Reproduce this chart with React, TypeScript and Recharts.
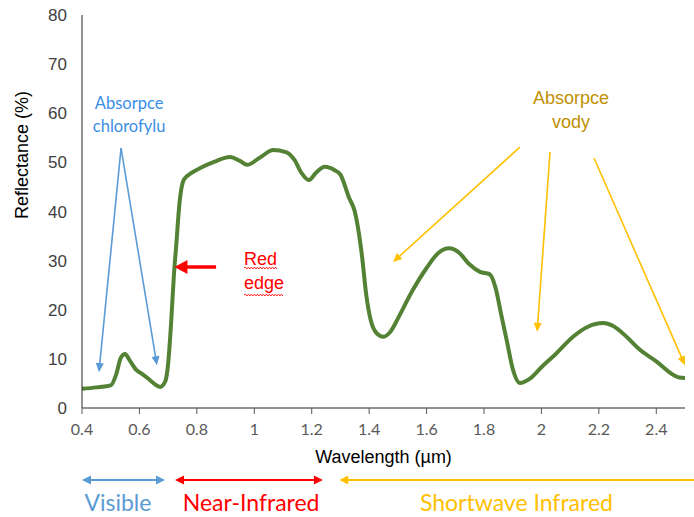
import React from 'react';
import { LineChart, Line, XAxis, YAxis, ReferenceLine, ReferenceDot } from 'recharts';

const wavelengths = [
  0.4, 0.45, 0.5, 0.52, 0.535, 0.55, 0.565, 0.59, 0.61, 0.63, 0.65, 0.672, 0.69, 0.7, 0.71, 0.72, 0.728, 0.74,
  0.755, 0.78, 0.81, 0.86, 0.915, 0.95, 0.975, 1.02, 1.066, 1.11, 1.14, 1.165, 1.19, 1.215, 1.245, 1.28, 1.3,
  1.33, 1.35, 1.375, 1.39, 1.405, 1.425, 1.45, 1.475, 1.5, 1.55, 1.6, 1.64, 1.68, 1.71, 1.75, 1.786, 1.82, 1.84,
  1.86, 1.88, 1.9, 1.925, 1.96, 2.0, 2.05, 2.11, 2.16, 2.215, 2.25, 2.3, 2.34, 2.4, 2.46, 2.48, 2.5,
];
const reflectance = [
  3.9, 4.2, 4.6, 7.0, 10.2, 11.0, 9.8, 7.7, 6.9, 6.0, 5.0, 4.3, 5.4, 9, 17, 27, 33, 42,
  46.5, 47.8, 48.8, 50.1, 51.1, 50.3, 49.5, 51, 52.5, 52.1, 50.5, 47.8, 46.4, 47.9, 49.1, 48.4, 47.5,
  42.8, 40, 31, 23, 18, 15.3, 14.5, 15.6, 18.2, 23.8, 28.5, 31.5, 32.5, 31.8, 29.2, 27.7, 27.2, 24.5,
  19, 13.5, 8, 5.1, 6, 8.3, 11, 14.5, 16.5, 17.3, 16.7, 14.3, 12, 9.5, 6.7, 6.2, 6.1,
];
const xTicks = [0.4, 0.6, 0.8, 1, 1.2, 1.4, 1.6, 1.8, 2, 2.2, 2.4];
const yTicks = [0, 10, 20, 30, 40, 50, 60, 70, 80];

const data = wavelengths.map((w, i) => ({ w, r: reflectance[i] }));

type Pt = { x: number; y: number };
type ArrowSpec = { from: Pt; to: Pt; color: string; width: number; head: number; headW: number; both?: boolean };

const annotationArrows: ArrowSpec[] = [
  { from: { x: 0.536, y: 52.9 }, to: { x: 0.459, y: 7.3 }, color: '#5B9BD5', width: 1.6, head: 9, headW: 8 },
  { from: { x: 0.536, y: 52.9 }, to: { x: 0.661, y: 8.7 }, color: '#5B9BD5', width: 1.6, head: 9, headW: 8 },
  { from: { x: 0.867, y: 28.7 }, to: { x: 0.722, y: 28.7 }, color: '#FF0000', width: 3.5, head: 13, headW: 14 },
  { from: { x: 1.925, y: 53.1 }, to: { x: 1.483, y: 29.7 }, color: '#FFC000', width: 1.6, head: 9, headW: 8 },
  { from: { x: 2.03, y: 52.1 }, to: { x: 1.985, y: 15.5 }, color: '#FFC000', width: 1.6, head: 9, headW: 8 },
  { from: { x: 2.183, y: 50.9 }, to: { x: 2.5, y: 8.7 }, color: '#FFC000', width: 1.6, head: 9, headW: 8 },
  { from: { x: 0.4, y: -14.66 }, to: { x: 0.689, y: -14.66 }, color: '#5B9BD5', width: 2, head: 9, headW: 9, both: true },
  { from: { x: 0.724, y: -14.66 }, to: { x: 1.239, y: -14.66 }, color: '#FF0000', width: 2, head: 9, headW: 9, both: true },
  { from: { x: 2.535, y: -14.66 }, to: { x: 1.296, y: -14.66 }, color: '#FFC000', width: 2, head: 9, headW: 9 },
];

type TextSpec = {
  at: Pt;
  lines: string[];
  color: string;
  size: number;
  family: string;
  anchor: string;
  lh: number;
  wavy?: number[];
};

const annotationTexts: TextSpec[] = [
  { at: { x: 0.564, y: 60.9 }, lines: ['Absorpce', 'chlorofylu'], color: '#3A8EE6', size: 16.5, family: 'Lato', anchor: 'middle', lh: 23 },
  { at: { x: 2.103, y: 61.9 }, lines: ['Absorpce', 'vody'], color: '#BF9000', size: 18, family: 'Liberation Sans, Arial', anchor: 'middle', lh: 24 },
  { at: { x: 0.964, y: 29.1 }, lines: ['Red', 'edge'], color: '#FF0000', size: 18, family: 'Liberation Sans, Arial', anchor: 'start', lh: 24, wavy: [34, 40] },
  { at: { x: 0.525, y: -20.97 }, lines: ['Visible'], color: '#5B9BD5', size: 23, family: 'Lato', anchor: 'middle', lh: 0 },
  { at: { x: 0.989, y: -20.97 }, lines: ['Near-Infrared'], color: '#FF0000', size: 23, family: 'Lato', anchor: 'middle', lh: 0 },
  { at: { x: 1.913, y: -20.97 }, lines: ['Shortwave Infrared'], color: '#FFC000', size: 23, family: 'Lato', anchor: 'middle', lh: 0 },
  { at: { x: 1.45, y: -11.2 }, lines: ['Wavelength (µm)'], color: '#000000', size: 18, family: 'Liberation Sans, Arial', anchor: 'middle', lh: 0 },
];

const headPoly = (tx: number, ty: number, ux: number, uy: number, L: number, W: number) => {
  const bx = tx - ux * L;
  const by = ty - uy * L;
  const nx = -uy;
  const ny = ux;
  return `${tx},${ty} ${bx + (nx * W) / 2},${by + (ny * W) / 2} ${bx - (nx * W) / 2},${by - (ny * W) / 2}`;
};

const makeArrowShape = (a: ArrowSpec) => (props: any) => {
  const x1 = Number(props.x1);
  const y1 = Number(props.y1);
  const x2 = Number(props.x2);
  const y2 = Number(props.y2);
  const dx = x2 - x1;
  const dy = y2 - y1;
  const len = Math.sqrt(dx * dx + dy * dy) || 1;
  const ux = dx / len;
  const uy = dy / len;
  const sx = a.both ? x1 + ux * (a.head - 1) : x1;
  const sy = a.both ? y1 + uy * (a.head - 1) : y1;
  const ex = x2 - ux * (a.head - 1);
  const ey = y2 - uy * (a.head - 1);
  return (
    <g>
      <line x1={sx} y1={sy} x2={ex} y2={ey} stroke={a.color} strokeWidth={a.width} />
      <polygon points={headPoly(x2, y2, ux, uy, a.head, a.headW)} fill={a.color} />
      {a.both ? <polygon points={headPoly(x1, y1, -ux, -uy, a.head, a.headW)} fill={a.color} /> : null}
    </g>
  );
};

const wavyPath = (x: number, y: number, w: number) => {
  let d = `M${x},${y}`;
  const step = 1.5;
  let up = true;
  for (let px = x + step; px <= x + w + 0.01; px += step) {
    d += ` L${px.toFixed(2)},${(y + (up ? -0.9 : 0.9)).toFixed(2)}`;
    up = !up;
  }
  return d;
};

const makeTextShape = (t: TextSpec) => (props: any) => {
  const cx = Number(props.cx);
  const cy = Number(props.cy);
  return (
    <g>
      <text x={cx} y={cy} fill={t.color} fontSize={t.size} fontFamily={t.family} textAnchor={t.anchor as any}>
        {t.lines.map((l, i) => (
          <tspan key={i} x={cx} dy={i === 0 ? 0 : t.lh}>
            {l}
          </tspan>
        ))}
      </text>
      {t.wavy
        ? t.wavy.map((w, i) => (
            <path
              key={`w${i}`}
              d={wavyPath(cx, cy + i * t.lh + (i === 0 ? 3 : 6), w)}
              fill="none"
              stroke={t.color}
              strokeWidth={0.9}
            />
          ))
        : null}
    </g>
  );
};

const yTitleShape = (props: any) => {
  const cx = Number(props.cx);
  const cy = Number(props.cy);
  return (
    <text
      x={cx}
      y={cy}
      transform={`rotate(-90, ${cx}, ${cy})`}
      textAnchor="middle"
      dominantBaseline="central"
      fontSize={18}
      fontFamily="Liberation Sans, Arial"
      fill="#000000"
    >
      Reflectance (%)
    </text>
  );
};

export default function App() {
  return (
    <div style={{ position: 'absolute', left: 0, top: 0, width: 694, height: 517, background: '#fff' }}>
      <LineChart width={694} height={517} data={data} margin={{ top: 15, right: 9, bottom: 79, left: 0 }}>
        <XAxis
          dataKey="w"
          type="number"
          domain={[0.4, 2.5]}
          ticks={xTicks}
          allowDataOverflow
          height={30}
          stroke="#262626"
          tickSize={6}
          tickMargin={10}
          tick={{ fill: '#595959', fontSize: 16, fontFamily: 'Lato' }}
          tickLine={{ stroke: '#595959' }}
        />
        <YAxis
          type="number"
          domain={[0, 80]}
          ticks={yTicks}
          width={82}
          stroke="#262626"
          tickLine={false}
          tickSize={0}
          tickMargin={15}
          tick={{ fill: '#404040', fontSize: 17, fontFamily: 'Liberation Sans, Arial' }}
        />
        <Line
          type="monotone"
          dataKey="r"
          stroke="#548235"
          strokeWidth={4}
          dot={false}
          activeDot={false}
          isAnimationActive={false}
        />
        {annotationArrows.map((a, i) => (
          <ReferenceLine
            key={`a${i}`}
            segment={[a.from, a.to]}
            ifOverflow="visible"
            stroke={a.color}
            shape={makeArrowShape(a)}
          />
        ))}
        {annotationTexts.map((t, i) => (
          <ReferenceDot key={`t${i}`} x={t.at.x} y={t.at.y} r={1} ifOverflow="visible" shape={makeTextShape(t)} />
        ))}
        <ReferenceDot x={0.191} y={51.5} r={1} ifOverflow="visible" shape={yTitleShape} />
      </LineChart>
    </div>
  );
}
